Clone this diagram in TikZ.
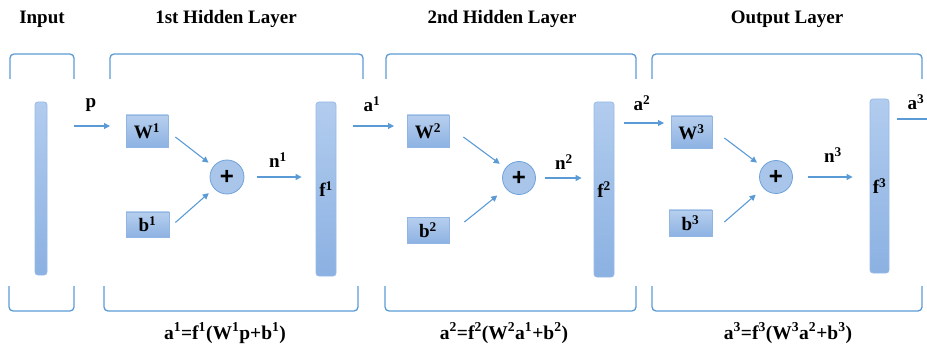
\documentclass[tikz,border=0pt]{standalone}
\usepackage{fontspec}
\setmainfont{Liberation Serif}
\newfontfamily\plusfont{Liberation Sans}
\usetikzlibrary{arrows.meta,calc}
\definecolor{lnblue}{HTML}{5B9BD5}
\definecolor{boxtop}{HTML}{B7CFEE}
\definecolor{boxbot}{HTML}{8DB2E2}
\definecolor{boxedge}{HTML}{92B6E4}
\definecolor{bartop}{HTML}{B2CCEE}
\definecolor{barbot}{HTML}{8BB1E2}
\definecolor{baredge}{HTML}{97BAE6}
\definecolor{circfill}{HTML}{A9C6EA}
\definecolor{circedge}{HTML}{6FA2DA}
\begin{document}
\begin{tikzpicture}[x=1pt,y=-1pt,
  title/.style={font=\fontsize{19}{22}\selectfont\bfseries, inner sep=0pt},
  lbl/.style={font=\fontsize{19}{21}\selectfont\bfseries, inner sep=0pt},
  frm/.style={font=\fontsize{19.5}{22}\selectfont\bfseries, inner sep=0pt},
  wbox/.style={draw=boxedge, line width=0.8pt, top color=boxtop, bottom color=boxbot,
    minimum width=42pt, minimum height=32pt, inner sep=0pt, font=\fontsize{19}{20}\selectfont\bfseries},
  bbox/.style={wbox, minimum height=26pt},
  bar/.style={draw=baredge, line width=0.8pt, rounded corners=3pt, top color=bartop, bottom color=barbot,
    inner sep=0pt, minimum width=20pt, minimum height=174pt, font=\fontsize{19}{20}\selectfont\bfseries},
  sumc/.style={circle, draw=circedge, line width=0.8pt, fill=circfill, minimum size=33pt, inner sep=0pt,
    font=\plusfont\fontsize{24}{24}\selectfont\bfseries},
  arr/.style={draw=lnblue, line width=1.1pt, -{Triangle[length=6pt,width=6pt]}},
  plain/.style={draw=lnblue, line width=1.1pt},
  brk/.style={draw=lnblue, line width=1.3pt, rounded corners=4pt}]
\useasboundingbox (0,0) rectangle (927,350);

% titles
\node[title] (tIn) at (42,19) {Input};
\node[title] (tL1) at (226,19) {1st Hidden Layer};
\node[title] (tL2) at (502,19) {2nd Hidden Layer};
\node[title] (tL3) at (787,19) {Output Layer};

% top brackets
\draw[brk] (10,79) -- (10,54) -- (74,54) -- (74,79);
\draw[brk] (110,79) -- (110,54) -- (363,54) -- (363,79);
\draw[brk] (386,79) -- (386,54) -- (636,54) -- (636,79);
\draw[brk] (652,79) -- (652,54) -- (922,54) -- (922,79);
% bottom brackets
\draw[brk] (9,286) -- (9,311) -- (74,311) -- (74,286);
\draw[brk] (104,286) -- (104,311) -- (358,311) -- (358,286);
\draw[brk] (385,286) -- (385,311) -- (636,311) -- (636,286);
\draw[brk] (652,286) -- (652,311) -- (922,311) -- (922,286);

% input
\node[bar, minimum width=12pt, minimum height=173pt] (inp) at (41,188.5) {};

% layer 1
\node[wbox] (W1) at (147,131) {W\textsuperscript{1}};
\node[bbox, minimum width=43pt, minimum height=25pt] (b1) at (147.5,224.5) {b\textsuperscript{1}};
\node[sumc, minimum size=34pt] (s1) at (227,177) {+};
\node[bar] (f1) at (326,189) {f\textsuperscript{1}};

% layer 2
\node[wbox] (W2) at (428,131) {W\textsuperscript{2}};
\node[bbox] (b2) at (428,230) {b\textsuperscript{2}};
\node[sumc] (s2) at (519,178) {+};
\node[bar, minimum height=175pt] (f2) at (604,189.5) {f\textsuperscript{2}};

% layer 3
\node[wbox, minimum width=41pt] (W3) at (691.5,132) {W\textsuperscript{3}};
\node[bbox, minimum width=43pt] (b3) at (690.5,223) {b\textsuperscript{3}};
\node[sumc] (s3) at (776,177) {+};
\node[bar, minimum width=19pt] (f3) at (879.5,186) {f\textsuperscript{3}};

% free ends of the layer connectors
\coordinate (pA) at (74,126);
\coordinate (pB) at (110,126);
\coordinate (a1A) at (353,126);
\coordinate (a1B) at (394,126);
\coordinate (a2A) at (624,123);
\coordinate (a2B) at (664,123);
\coordinate (a3A) at (897,119);
\coordinate (a3B) at (927,119);

% connectors
\draw[arr] (pA) -- (pB);
\draw[arr, shorten >=6pt] ([shift={(7,6)}]W1.east) -- (s1);
\draw[arr, shorten >=7pt] ([shift={(6,-2)}]b1.east) -- (s1);
\draw[arr] ([xshift=13pt]s1.east) -- ($(f1.west |- s1.east)+(-14,0)$);

\draw[arr] (a1A) -- (a1B);
\draw[arr, shorten >=7pt] ([shift={(14,6)}]W2.east) -- (s2);
\draw[arr, shorten >=11pt] ([shift={(15,-8)}]b2.east) -- (s2);
\draw[arr] ([xshift=9pt]s2.east) -- ($(f2.west |- s2.east)+(-12,0)$);

\draw[arr] (a2A) -- (a2B);
\draw[arr, shorten >=7pt] ([shift={(12,6)}]W3.east) -- (s3);
\draw[arr, shorten >=10pt] ([shift={(12,-1)}]b3.east) -- (s3);
\draw[arr] ([xshift=15pt]s3.east) -- ($(f3.west |- s3.east)+(-17,0)$);

\draw[plain] (a3A) -- (a3B);

% connector labels
\node[lbl] (lp) at (91,105) {p};
\node[lbl] (la1) at (372,104) {a\textsuperscript{1}};
\node[lbl] (ln1) at (278,160) {n\textsuperscript{1}};
\node[lbl] (ln2) at (564,162) {n\textsuperscript{2}};
\node[lbl] (la2) at (642,103) {a\textsuperscript{2}};
\node[lbl] (ln3) at (833,155) {n\textsuperscript{3}};
\node[lbl] (la3) at (916,102) {a\textsuperscript{3}};

% formulas
\node[frm] (e1) at (225,333) {a\textsuperscript{1}=f\textsuperscript{1}(W\textsuperscript{1}p+b\textsuperscript{1})};
\node[frm] (e2) at (504,333) {a\textsuperscript{2}=f\textsuperscript{2}(W\textsuperscript{2}a\textsuperscript{1}+b\textsuperscript{2})};
\node[frm] (e3) at (788,333) {a\textsuperscript{3}=f\textsuperscript{3}(W\textsuperscript{3}a\textsuperscript{2}+b\textsuperscript{3})};
\end{tikzpicture}
\end{document}
